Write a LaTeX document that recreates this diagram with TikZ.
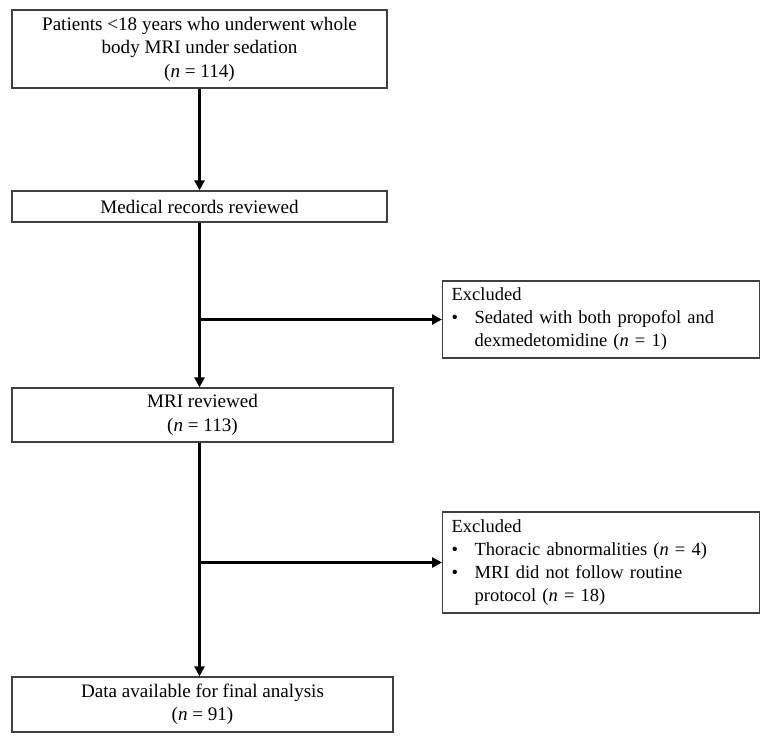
\documentclass[tikz,border=0pt]{standalone}
\usepackage{fontspec}
\setmainfont{Liberation Serif}
\usetikzlibrary{arrows.meta}
\begin{document}
\begin{tikzpicture}[x=1pt,y=-1pt,
  box/.style={draw=black!75,line width=1.3pt,inner sep=0pt,font=\fontsize{19.1}{23.5}\selectfont,align=center},
  exbox/.style={draw=black!75,line width=1.3pt,inner xsep=9pt,inner ysep=0pt,font=\fontsize{18.5}{23}\selectfont,align=left,anchor=west},
  arr/.style={line width=2.7pt,-{Triangle[length=10pt,width=10pt]}},
  ln/.style={line width=2.7pt}]
\useasboundingbox[fill=white] (0,0) rectangle (771,744);
\node[box,minimum width=375pt,minimum height=78pt] (b1) at (199.5,49) {Patients <18 years who underwent whole\\body MRI under sedation\\(\textit{n} = 114)};
\node[box,minimum width=375pt,minimum height=31pt] (b2) at (199.5,206.5) {Medical records reviewed};
\node[box,minimum width=381pt,minimum height=54pt] (b3) at (202.5,415) {MRI reviewed\\(\textit{n} = 113)};
\node[box,minimum width=381pt,minimum height=55pt] (b4) at (202.5,704.5) {Data available for final analysis\\(\textit{n} = 91)};
\node[exbox,minimum width=317pt,minimum height=77pt,text width=299pt] (e1) at (442,319.5) {Excluded\\\makebox[23pt][l]{\textbullet}Sedated with both propofol and\\\hspace*{23pt}dexmedetomidine (\textit{n} = 1)};
\node[exbox,minimum width=317pt,minimum height=101pt,text width=299pt] (e2) at (442,562.5) {Excluded\\\makebox[23pt][l]{\textbullet}Thoracic abnormalities (\textit{n} = 4)\\\makebox[23pt][l]{\textbullet}MRI did not follow routine\\\hspace*{23pt}protocol (\textit{n} = 18)};
\draw[arr] (b1.south) -- (b2.north);
\draw[arr] (b2.south) -- (b2.south |- b3.north);
\draw[arr] (b2.south |- e1.west) -- (e1.west);
\draw[arr] (b1.south |- b3.south) -- (b1.south |- b4.north);
\draw[arr] (b1.south |- e2.west) -- (e2.west);
\end{tikzpicture}
\end{document}
